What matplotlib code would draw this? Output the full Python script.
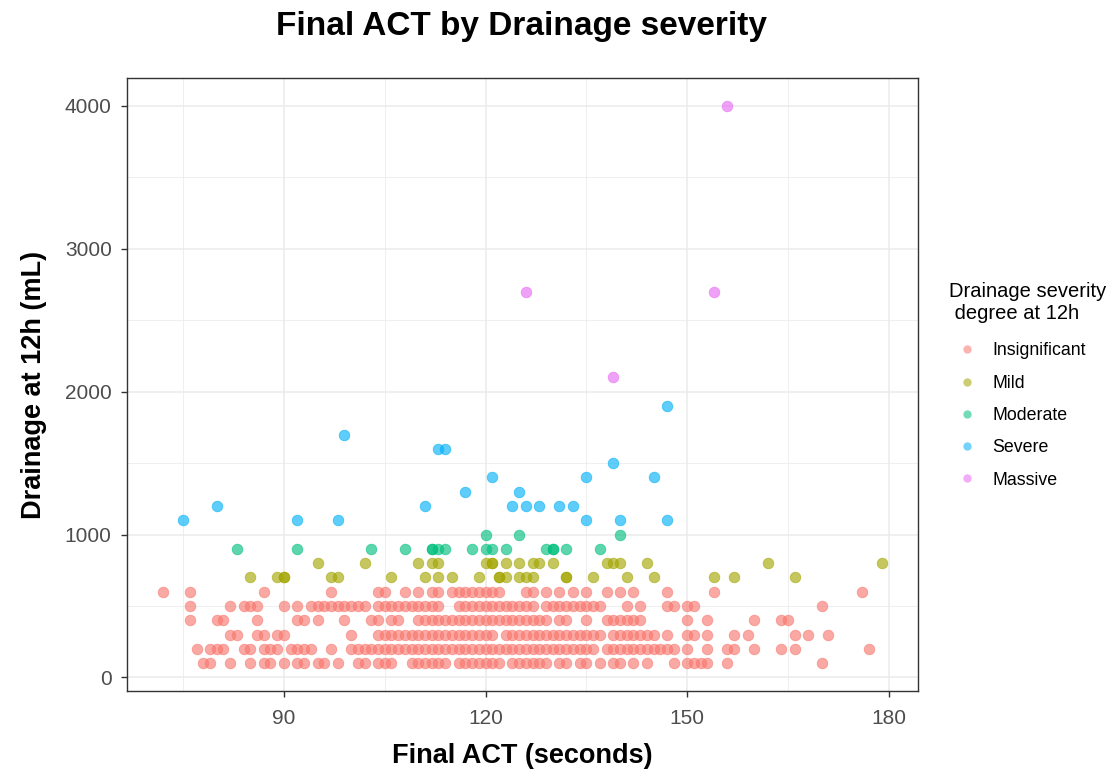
import matplotlib
matplotlib.use('Agg')
from matplotlib import pyplot as plt
from matplotlib.lines import Line2D
import numpy as np

plt.rcParams['font.family'] = ['Liberation Sans', 'DejaVu Sans']

# Final ACT (seconds) for each drainage level, Insignificant group
ins_100 = [78, 79, 82, 85, 87, 88, 90, 92, 93, 95, 96, 98, 101, 102, 104, 105,
           106, 109, 110, 111, 112, 113, 114, 116, 117, 118, 119, 120, 121, 122,
           124, 125, 126, 127, 128, 129, 131, 132, 134, 135, 137, 139, 140, 142,
           144, 148, 150, 151, 152, 153, 156, 170]
ins_200 = [77, 79, 80, 81, 84, 85, 87, 88, 89, 91, 92, 93, 94, 97, 100, 101,
           102, 103, 104, 105, 106, 107, 108, 109, 110, 111, 112, 113, 114, 115,
           116, 117, 118, 119, 120, 121, 122, 123, 124, 125, 126, 127, 128, 129,
           130, 131, 132, 133, 134, 135, 136, 138, 139, 140, 141, 142, 143, 144,
           145, 146, 147, 148, 150, 153, 156, 157, 160, 164, 166, 177]
ins_300 = [82, 83, 86, 87, 89, 90, 100, 104, 105, 106, 107, 108, 109, 110, 111,
           112, 113, 114, 115, 116, 117, 118, 119, 120, 121, 123, 124, 125, 126,
           127, 128, 129, 130, 131, 132, 133, 134, 135, 136, 137, 139, 140, 141,
           142, 143, 144, 145, 147, 150, 151, 153, 157, 159, 166, 168, 171]
ins_400 = [76, 80, 81, 86, 92, 93, 95, 99, 103, 104, 106, 107, 110, 111, 112,
           113, 114, 115, 116, 117, 118, 119, 120, 121, 122, 123, 124, 125, 126,
           127, 128, 129, 131, 132, 135, 138, 139, 140, 141, 142, 143, 150, 153,
           160, 164, 165]
ins_500 = [76, 82, 84, 85, 86, 90, 92, 94, 95, 96, 97, 98, 99, 100, 101, 102,
           104, 105, 106, 107, 108, 109, 110, 111, 112, 113, 116, 117, 118, 119,
           120, 121, 122, 123, 124, 125, 126, 127, 129, 130, 131, 132, 133, 134,
           135, 136, 137, 141, 143, 147, 148, 150, 151, 170]
ins_600 = [72, 76, 87, 97, 104, 105, 108, 110, 112, 113, 115, 116, 117, 118,
           119, 120, 121, 122, 126, 127, 129, 131, 133, 135, 138, 140, 142, 147,
           154, 176]

mild_700 = [85, 89, 90, 90, 97, 98, 106, 111, 113, 115, 119, 122, 122, 123,
            125, 126, 127, 132, 132, 136, 141, 145, 154, 157, 166]
mild_800 = [95, 102, 110, 112, 113, 120, 121, 121, 123, 125, 127, 128, 130,
            138, 139, 140, 144, 162, 179]

mod_900 = [83, 92, 103, 108, 112, 112, 113, 114, 118, 120, 121, 123, 129, 130,
           130, 132, 137]
mod_1000 = [120, 125, 140]

severe_act = [75, 80, 92, 98, 99, 111, 113, 114, 117, 121, 124, 125, 126, 128,
              131, 133, 135, 135, 139, 140, 145, 147, 147]
severe_ml = [1100, 1200, 1100, 1100, 1700, 1200, 1600, 1600, 1300, 1400, 1200,
             1300, 1200, 1200, 1200, 1200, 1400, 1100, 1500, 1100, 1400, 1900,
             1100]

massive_act = [126, 139, 154, 156]
massive_ml = [2700, 2100, 2700, 4000]

levels = ['Insignificant', 'Mild', 'Moderate', 'Severe', 'Massive']
colors = ['#F8766D', '#A3A500', '#00BF7D', '#00B0F6', '#E76BF3']


def rows(groups):
    xs, ys = [], []
    for ml, acts in groups:
        xs += acts
        ys += [ml] * len(acts)
    return xs, ys


data = {
    'Insignificant': rows([(100, ins_100), (200, ins_200), (300, ins_300),
                           (400, ins_400), (500, ins_500), (600, ins_600)]),
    'Mild': rows([(700, mild_700), (800, mild_800)]),
    'Moderate': rows([(900, mod_900), (1000, mod_1000)]),
    'Severe': (severe_act, severe_ml),
    'Massive': (massive_act, massive_ml),
}

fig = plt.figure(figsize=(11.17, 7.74), dpi=100)
ax = fig.add_axes([127 / 1117, 1 - 691 / 774, 791 / 1117, 613 / 774])

for lev, col in zip(levels, colors):
    x, y = data[lev]
    ax.scatter(x, y, s=58, color=col, alpha=0.63, edgecolors=col,
               linewidths=0.6, zorder=3)

# ggplot-style 5% padding around the data range
all_x = np.concatenate([np.asarray(data[l][0], float) for l in levels])
all_y = np.concatenate([np.asarray(data[l][1], float) for l in levels])
xr = all_x.max() - all_x.min()
yr = all_y.max() - all_y.min()
ax.set_xlim(all_x.min() - 0.05 * xr, all_x.max() + 0.05 * xr)
ax.set_ylim(all_y.min() - 0.05 * yr, all_y.max() + 0.05 * yr)

ax.set_xticks([90, 120, 150, 180])
ax.set_xticks([75, 105, 135, 165], minor=True)
ax.set_yticks([0, 1000, 2000, 3000, 4000])
ax.set_yticks([500, 1500, 2500, 3500], minor=True)

ax.grid(which='major', color='#EBEBEB', linewidth=1.1, zorder=0)
ax.grid(which='minor', color='#EBEBEB', linewidth=0.55, zorder=0)
ax.set_axisbelow(True)
for sp in ax.spines.values():
    sp.set_color('#333333')
    sp.set_linewidth(1.0)

ax.tick_params(which='major', length=4, width=1, color='#333333',
               labelsize=15, labelcolor='#4D4D4D')
ax.tick_params(axis='x', which='major', pad=9)
ax.tick_params(axis='y', which='major', pad=7)
ax.tick_params(which='minor', length=0)

ax.set_xlabel('Final ACT (seconds)', fontsize=19.5, fontweight='bold',
              labelpad=11)
ax.set_ylabel('Drainage at 12h (mL)', fontsize=19.5, fontweight='bold',
              labelpad=13)

fig.text(522 / 1117, 1 - 26 / 774, 'Final ACT by Drainage severity',
         fontsize=24, fontweight='bold', ha='center', va='center')

handles = [Line2D([], [], linestyle='none', marker='o', markersize=6,
                  color=c, alpha=0.55, markeredgewidth=0) for c in colors]
leg = fig.legend(handles, levels, loc='upper left',
                 bbox_to_anchor=(933 / 1117, 1 - 266 / 774),
                 title='Drainage severity\n degree at 12h', fontsize=12.8,
                 title_fontsize=14.5, frameon=False, labelspacing=0.86,
                 handletextpad=0.36, handlelength=2.06)
leg._legend_box.align = 'left'
leg._legend_box.sep += 3

fig.savefig('out.png', dpi=100)
